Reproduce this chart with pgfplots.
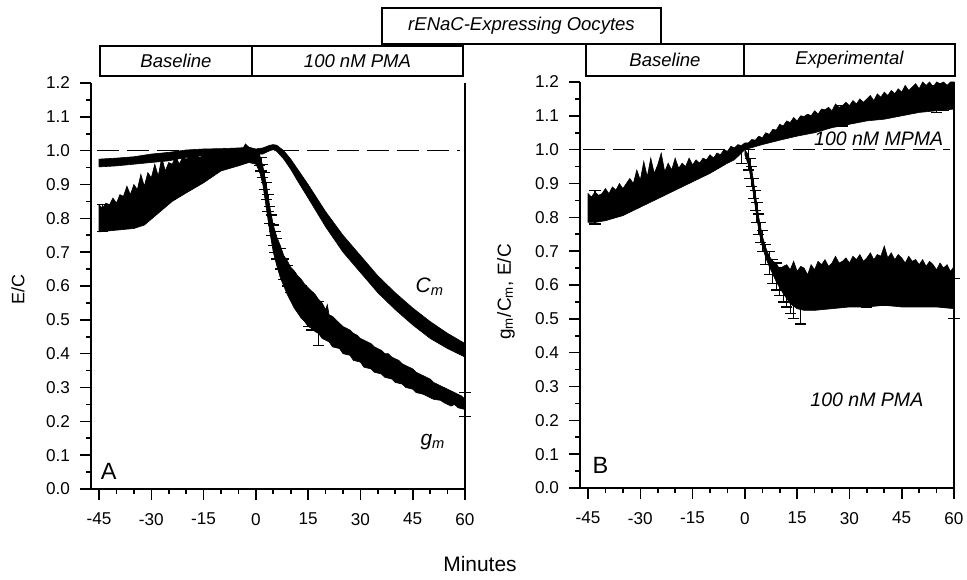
\documentclass[border=0pt]{standalone}
\usepackage{pgfplots}
\pgfplotsset{compat=1.18}
\usepackage{fontspec}
\setmainfont{Liberation Sans}
\begin{document}
\begin{tikzpicture}
\useasboundingbox (0,0) rectangle (483.5bp,290bp);
\pgfplotsset{
 panel/.style={
  scale only axis, width=187bp, height=203bp,
  xmin=-47.3, xmax=60, ymin=0, ymax=1.2,
  axis x line=bottom, axis y line=left,
  axis line style={-, line width=0.8bp},
  every tick/.style={black, line width=0.8bp},
  tick align=outside,
  major tick length=5.5bp, minor tick length=2.5bp,
  xtick={-45,-30,-15,0,15,30,45,60}, minor x tick num=2,
  ytick={0,0.1,0.2,0.3,0.4,0.5,0.6,0.7,0.8,0.9,1.0,1.1,1.2}, minor y tick num=1,
  /pgf/number format/assume math mode=true,
  tick label style={font=\fontsize{8.6}{10}\selectfont},
  yticklabel style={xshift=-1.5bp, /pgf/number format/fixed, /pgf/number format/fixed zerofill, /pgf/number format/precision=1},
  xticklabel style={yshift=-3bp},
  clip=false,
 },
 band/.style={fill=black, draw=black, line width=0.3bp, mark=none},
 eb/.style={draw=none, mark=none,
   error bars/y dir=both, error bars/y explicit,
   error bars/error mark=-,
   error bars/error bar style={draw=black, line width=0.6bp, solid},
   error bars/error mark options={rotate=90, draw=black, mark size=2.8bp, line width=0.6bp}},
}
% ---------------- Panel A ----------------
\begin{axis}[panel, at={(45.5bp,45.5bp)}, anchor=south west]
\addplot[black, line width=0.6bp, dash pattern=on 11bp off 4bp] coordinates {(-45.6,1) (58.5,1)};
% C_m band
\addplot[band] coordinates {
(-45,0.975)(-40,0.978)(-35,0.982)(-30,0.99)(-25,0.995)(-20,1.002)(-15,1.005)(-10,1.006)(-5,1.008)(-2,1.01)(0,1.005)(2,1.008)(4,1.016)(5,1.018)(6,1.016)(8,1.0)(10,0.975)(12,0.945)(15,0.9)(20,0.82)(25,0.75)(30,0.69)(35,0.63)(40,0.58)(45,0.535)(50,0.495)(55,0.46)(60,0.43)
(60,0.39)(55,0.415)(50,0.445)(45,0.485)(40,0.53)(35,0.58)(30,0.64)(25,0.70)(20,0.775)(15,0.86)(12,0.91)(10,0.945)(8,0.975)(6,0.998)(5,1.003)(4,1.0)(2,0.99)(0,0.99)(-2,0.99)(-5,0.99)(-10,0.988)(-15,0.985)(-20,0.98)(-25,0.97)(-30,0.965)(-35,0.96)(-40,0.955)(-45,0.952)
} -- cycle;
% g_m band
\addplot[band] coordinates {
(-45,0.84)(-44,0.83)(-43,0.845)(-42,0.84)(-41,0.86)(-40,0.845)(-39,0.87)(-38,0.865)(-37,0.895)(-36,0.87)(-35,0.9)(-34,0.885)(-33,0.93)(-32,0.895)(-31,0.935)(-30,0.92)(-29,0.96)(-28,0.925)(-27,0.98)(-26,0.94)(-25,0.965)(-24,0.96)(-23,0.985)(-22,0.96)(-21,0.98)(-20,0.975)(-18,0.99)(-16,0.98)(-14,0.995)(-12,0.99)(-10,1.0)(-8,0.995)(-6,1.005)(-4,1.0)(-3,1.02)(-2,1.01)(-1,1.005)(0,1.0)
(1,0.99)(2,0.955)(3,0.9)(4,0.835)(5,0.78)(6,0.745)(7,0.72)(8,0.69)(9,0.675)(10,0.655)(11,0.645)(12,0.63)(13,0.62)(14,0.605)(15,0.595)(16,0.585)(17,0.575)(18,0.56)(19,0.55)(20,0.53)(20.5,0.545)(21,0.515)(22,0.51)(23,0.5)(24,0.49)(25,0.48)(26,0.475)(27,0.47)(28,0.46)(29,0.455)(30,0.445)(31,0.44)(32,0.435)(33,0.43)(34,0.42)(35,0.415)(36,0.41)(37,0.4)(38,0.4)(39,0.39)(40,0.385)(41,0.38)(42,0.37)(43,0.365)(44,0.36)(45,0.355)(46,0.345)(47,0.34)(48,0.335)(49,0.33)(50,0.325)(51,0.315)(52,0.31)(53,0.305)(54,0.3)(55,0.295)(56,0.29)(57,0.285)(58,0.28)(59,0.275)(60,0.265)
(60,0.235)(58,0.24)(57,0.25)(56,0.245)(54,0.255)(53,0.262)(51,0.265)(49,0.275)(48,0.28)(46,0.285)(45,0.295)(43,0.3)(42,0.31)(40,0.315)(39,0.325)(37,0.33)(36,0.34)(34,0.345)(33,0.355)(31,0.36)(30,0.375)(28,0.38)(27,0.395)(25,0.4)(24,0.415)(22,0.42)(21,0.435)(19,0.445)(18,0.46)(17,0.465)(16,0.475)(15,0.48)(14,0.495)(13,0.505)(12,0.52)(11,0.535)(10,0.555)(9,0.575)(8,0.6)(7,0.625)(6,0.66)(5,0.7)(4,0.76)(3,0.83)(2,0.9)(1,0.94)(0,0.96)(-2,0.965)(-5,0.955)(-10,0.94)(-15,0.905)(-20,0.875)(-24,0.85)(-28,0.815)(-32,0.78)(-35,0.77)(-40,0.765)(-45,0.76)
} -- cycle;
\addplot[eb] coordinates {
(-44,0.80) +- (0,0.04)
(-30,0.86) +- (0,0.03)
(-2,0.985) +- (0,0.015)
(1,0.975) +- (0,0.02)
(1.5,0.96) +- (0,0.02)
(2,0.94) +- (0,0.02)
(2.5,0.91) +- (0,0.025)
(3,0.88) +- (0,0.025)
(3.5,0.845) +- (0,0.025)
(4,0.81) +- (0,0.025)
(4.5,0.78) +- (0,0.03)
(5,0.75) +- (0,0.03)
(5.5,0.73) +- (0,0.03)
(6,0.71) +- (0,0.03)
(7,0.68) +- (0,0.03)
(8,0.65) +- (0,0.03)
(9,0.63) +- (0,0.03)
(10,0.61) +- (0,0.03)
(11,0.595) +- (0,0.03)
(12,0.58) +- (0,0.03)
(13,0.565) +- (0,0.035)
(15,0.53) +- (0,0.05)
(16,0.52) +- (0,0.05)
(18,0.49) +- (0,0.065)
(60,0.25) +- (0,0.035)
};
\draw[line width=0.8bp] (axis cs:60,0) -- (axis cs:60,1.2);
\node[font=\fontsize{11.8}{13}\selectfont] at (axis cs:-42.2,0.053) {A};
\node[font=\fontsize{10.5}{12}\selectfont\itshape] at (axis cs:49.9,0.597) {C\textsubscript{m}};
\node[font=\fontsize{10.5}{12}\selectfont\itshape] at (axis cs:50.8,0.139) {g\textsubscript{m}};
\end{axis}
% ---------------- Panel B ----------------
\begin{axis}[panel, at={(290bp,46bp)}, anchor=south west]
\addplot[black, line width=0.6bp, dash pattern=on 11bp off 4bp] coordinates {(-46.5,1) (58.8,1)};
% MPMA band
\addplot[band] coordinates {
(-45,0.87)(-44,0.86)(-43,0.875)(-42,0.865)(-41,0.87)(-40,0.885)(-39,0.87)(-38,0.89)(-37,0.88)(-36,0.9)(-35,0.885)(-34,0.9)(-33,0.915)(-32,0.9)(-31,0.94)(-30,0.91)(-29,0.965)(-28,0.92)(-27,0.975)(-26,0.93)(-25,0.955)(-24,0.99)(-23,0.935)(-22,0.96)(-21,0.94)(-20,0.975)(-19,0.945)(-18,0.96)(-17,0.95)(-16,0.975)(-15,0.955)(-14,0.97)(-13,0.96)(-12,0.975)(-11,0.97)(-10,0.985)(-9,0.975)(-8,0.99)(-7,0.985)(-6,1.0)(-5,0.995)(-4,1.01)(-3,1.005)(-2,1.015)(-1,1.012)(0,1.02)(1,1.02)(2,1.03)(3,1.028)(4,1.04)(5,1.035)(6,1.05)(7,1.045)(8,1.06)(9,1.058)(10,1.075)(11,1.07)(12,1.085)(13,1.08)(14,1.095)(15,1.085)(16,1.1)(17,1.098)(18,1.105)(19,1.1)(20,1.115)(21,1.105)(22,1.12)(23,1.118)(24,1.125)(25,1.115)(26,1.135)(27,1.125)(28,1.13)(29,1.14)(30,1.13)(31,1.145)(32,1.135)(33,1.15)(34,1.14)(35,1.15)(36,1.16)(37,1.145)(38,1.165)(39,1.155)(40,1.17)(41,1.16)(42,1.175)(43,1.165)(44,1.18)(45,1.17)(46,1.19)(47,1.175)(48,1.185)(49,1.195)(50,1.18)(51,1.2)(52,1.19)(53,1.2)(54,1.185)(55,1.2)(56,1.195)(57,1.2)(58,1.19)(59,1.2)(60,1.2)
(60,1.12)(55,1.115)(50,1.11)(45,1.1)(40,1.09)(35,1.085)(30,1.075)(25,1.065)(20,1.05)(15,1.04)(10,1.028)(5,1.015)(0,1.0)(-3,0.97)(-5,0.96)(-10,0.93)(-15,0.905)(-20,0.88)(-25,0.855)(-30,0.83)(-35,0.805)(-40,0.79)(-43,0.785)(-45,0.785)
} -- cycle;
% PMA band
\addplot[band] coordinates {
(0,1.0)(1,0.985)(2,0.94)(3,0.87)(4,0.8)(5,0.745)(6,0.71)(7,0.685)(8,0.67)(9,0.665)(10,0.645)(11,0.655)(12,0.66)(13,0.645)(14,0.67)(15,0.64)(16,0.655)(17,0.65)(18,0.63)(19,0.66)(20,0.645)(21,0.67)(22,0.66)(23,0.675)(24,0.655)(25,0.665)(26,0.685)(27,0.665)(28,0.67)(29,0.68)(30,0.665)(31,0.685)(32,0.675)(33,0.69)(34,0.67)(35,0.68)(36,0.695)(37,0.675)(38,0.69)(39,0.685)(40,0.715)(41,0.68)(42,0.695)(43,0.675)(44,0.69)(45,0.68)(46,0.665)(47,0.685)(48,0.67)(49,0.675)(50,0.66)(51,0.675)(52,0.655)(53,0.67)(54,0.66)(55,0.645)(56,0.665)(57,0.65)(58,0.66)(59,0.64)(60,0.655)
(60,0.53)(55,0.535)(50,0.535)(45,0.535)(40,0.54)(35,0.535)(30,0.535)(25,0.53)(20,0.525)(17,0.525)(15,0.53)(13,0.545)(11,0.575)(9,0.61)(7,0.655)(6,0.68)(5,0.715)(4,0.76)(3,0.83)(2,0.9)(1,0.955)(0,0.985)
} -- cycle;
\addplot[eb] coordinates {
(-43,0.83) +- (0,0.05)
(-1,0.985) +- (0,0.025)
(1,0.97) +- (0,0.03)
(1.5,0.945) +- (0,0.03)
(2,0.92) +- (0,0.03)
(2.5,0.885) +- (0,0.03)
(3,0.85) +- (0,0.03)
(3.5,0.815) +- (0,0.03)
(4,0.78) +- (0,0.03)
(4.5,0.755) +- (0,0.03)
(5,0.73) +- (0,0.03)
(6,0.69) +- (0,0.03)
(7,0.665) +- (0,0.035)
(8,0.64) +- (0,0.035)
(9,0.625) +- (0,0.04)
(10,0.61) +- (0,0.04)
(11,0.595) +- (0,0.045)
(12,0.585) +- (0,0.05)
(13,0.575) +- (0,0.06)
(14,0.57) +- (0,0.07)
(16,0.56) +- (0,0.075)
(20,0.57) +- (0,0.04)
(28,1.1) +- (0,0.03)
(35,0.57) +- (0,0.035)
(40,0.575) +- (0,0.035)
(55,1.15) +- (0,0.04)
(57,1.15) +- (0,0.035)
(58,0.575) +- (0,0.04)
(60,0.56) +- (0,0.06)
};
\draw[line width=0.8bp] (axis cs:60,0) -- (axis cs:60,1.2);
\node[font=\fontsize{11.8}{13}\selectfont] at (axis cs:-41.4,0.068) {B};
\node[font=\fontsize{9.8}{11}\selectfont\itshape, anchor=base] at (axis cs:38.4,1.012) {100 nM MPMA};
\node[font=\fontsize{9.8}{11}\selectfont\itshape] at (axis cs:35,0.26) {100 nM PMA};
\end{axis}
% ---------------- Annotations ----------------
\draw[line width=0.6bp] (191bp,268bp) rectangle (330.5bp,286bp);
\node[font=\fontsize{9.3}{11}\selectfont\itshape] at (260.75bp,277bp) {rENaC-Expressing Oocytes};
\draw[line width=0.6bp] (50bp,252bp) rectangle (126bp,267bp);
\draw[line width=0.6bp] (126bp,252bp) rectangle (231.5bp,267bp);
\node[font=\fontsize{9.3}{11}\selectfont\itshape] at (88bp,259.5bp) {Baseline};
\node[font=\fontsize{9.3}{11}\selectfont\itshape] at (178.75bp,259.5bp) {100 nM PMA};
\draw[line width=0.6bp] (293bp,252bp) rectangle (372bp,268bp);
\draw[line width=0.6bp] (372bp,252bp) rectangle (477.5bp,268bp);
\node[font=\fontsize{9.3}{11}\selectfont\itshape] at (332.5bp,260bp) {Baseline};
\node[font=\fontsize{9.3}{11}\selectfont\itshape] at (424.75bp,260bp) {Experimental};
\node[rotate=90, font=\fontsize{9}{11}\selectfont] at (9bp,145bp) {E/C};
\node[rotate=90, font=\fontsize{9.5}{11}\selectfont] at (253bp,144bp) {g\textsubscript{m}/C\textsubscript{m}, E/C};
\node[font=\fontsize{10.5}{12}\selectfont] at (240bp,8bp) {Minutes};
\end{tikzpicture}
\end{document}
